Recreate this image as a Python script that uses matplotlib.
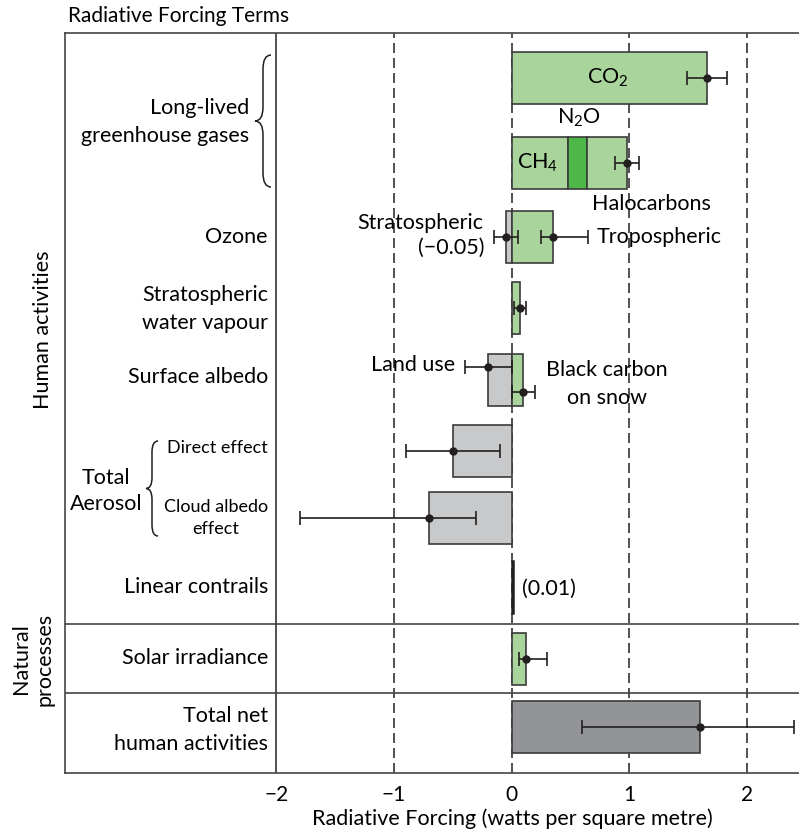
import matplotlib
matplotlib.use("Agg")
import matplotlib.pyplot as plt
from matplotlib.path import Path
from matplotlib.patches import PathPatch

plt.rcParams['font.family'] = ['Lato', 'DejaVu Sans']
plt.rcParams['mathtext.fontset'] = 'custom'
plt.rcParams['mathtext.rm'] = 'Lato'
plt.rcParams['axes.unicode_minus'] = True

# radiative forcing values (W/m2) and uncertainty ranges
co2 = 1.66
co2_err = (1.49, 1.83)
ch4 = 0.48
n2o = 0.16
halocarbons = 0.34
ghg_err = (0.88, 1.08)
ozone_strat = -0.05
ozone_strat_err = (-0.15, 0.05)
ozone_trop = 0.35
ozone_trop_err = (0.25, 0.65)
strat_h2o = 0.07
strat_h2o_err = (0.02, 0.12)
land_use = -0.2
land_use_err = (-0.4, 0.0)
black_carbon = 0.1
black_carbon_err = (0.0, 0.2)
aerosol_direct = -0.5
aerosol_direct_err = (-0.9, -0.1)
cloud_albedo = -0.7
cloud_albedo_err = (-1.8, -0.3)
contrails = 0.01
solar = 0.12
solar_err = (0.06, 0.3)
total_net = 1.6
total_net_err = (0.6, 2.4)

xticks = [-2, -1, 0, 1, 2]

# layout (pixel-like units, top to bottom)
W, H = 799, 833
row_y = {'co2': 77.5, 'ghg': 162.5, 'ozone': 237, 'h2o': 308, 'albedo': 380,
         'direct': 450.5, 'cloud': 517.5, 'contrails': 587, 'solar': 659, 'total': 727}
bar_h = 52
x0_px, unit_px = 511.7, 117.7
left_px, top_px, bottom_px = 65, 32.7, 772.7

light_green = '#a9d59c'
dark_green = '#4db848'
light_gray = '#c8c9cb'
dark_gray = '#929497'
edge = '#3b3b3b'
ink = '#231f20'

fig = plt.figure(figsize=(W / 100, H / 100), dpi=100)
ax = fig.add_axes([left_px / W, 1 - bottom_px / H, (W - left_px) / W, (bottom_px - top_px) / H])
ax.set_xlim((left_px - x0_px) / unit_px, (W - x0_px) / unit_px)
ax.set_ylim(bottom_px, top_px)


def fx(px):
    return px / W


def fy(py):
    return 1 - py / H


def bar(y, width, left=0, color=light_green, h=bar_h):
    ax.barh(y, width, left=left, height=h, color=color, edgecolor=edge, linewidth=1.2, zorder=3)


def err(val, rng, y):
    ax.errorbar(val, y, xerr=[[val - rng[0]], [rng[1] - val]], fmt='o', color=ink,
                ms=5, capsize=5, elinewidth=1.2, capthick=1.2, zorder=5)


# grid lines
for t in xticks:
    if t == -2:
        ax.axvline(t, color='#333333', lw=1.2, zorder=1)
    else:
        ax.axvline(t, color='#333333', lw=1.2, ls=(0, (6, 3)), zorder=1)
for y in [624, 693]:
    ax.axhline(y, color='#444444', lw=1.2, zorder=1)

# bars
bar(row_y['co2'], co2)
err(co2, co2_err, row_y['co2'])

bar(row_y['ghg'], ch4)
bar(row_y['ghg'], n2o, left=ch4, color=dark_green)
bar(row_y['ghg'], halocarbons, left=ch4 + n2o)
err(ch4 + n2o + halocarbons, ghg_err, row_y['ghg'])

bar(row_y['ozone'], ozone_strat, color=light_gray)
bar(row_y['ozone'], ozone_trop)
err(ozone_strat, ozone_strat_err, row_y['ozone'])
err(ozone_trop, ozone_trop_err, row_y['ozone'])

bar(row_y['h2o'], strat_h2o)
err(strat_h2o, strat_h2o_err, row_y['h2o'])

bar(row_y['albedo'], land_use, color=light_gray)
bar(row_y['albedo'], black_carbon)
err(land_use, land_use_err, row_y['albedo'] - 13)
err(black_carbon, black_carbon_err, row_y['albedo'] + 12)

bar(row_y['direct'], aerosol_direct, color=light_gray)
err(aerosol_direct, aerosol_direct_err, row_y['direct'])

bar(row_y['cloud'], cloud_albedo, color=light_gray)
err(cloud_albedo, cloud_albedo_err, row_y['cloud'])

ax.barh(row_y['contrails'], contrails, height=bar_h, color=ink, edgecolor=ink, lw=1.8, zorder=3)

bar(row_y['solar'], solar)
err(solar, solar_err, row_y['solar'])

bar(row_y['total'], total_net, color=dark_gray)
err(total_net, total_net_err, row_y['total'])

# labels inside plot
fs = 15.5
ls = 1.45
ax.text(0.82, 78, r'CO$_2$', fontsize=fs, ha='center', va='center', zorder=6)
ax.text(0.57, 118, r'N$_2$O', fontsize=fs, ha='center', va='center', zorder=6)
ax.text(0.22, 163, r'CH$_4$', fontsize=fs, ha='center', va='center', zorder=6)
ax.text(1.19, 204, 'Halocarbons', fontsize=fs, ha='center', va='center', zorder=6)
ax.text(0.72, 237, 'Tropospheric', fontsize=fs, ha='left', va='center', zorder=6)
ax.text(-0.245, 223, 'Stratospheric', fontsize=fs, ha='right', va='center', zorder=6)
ax.text(-0.23, 248, '(\u22120.05)', fontsize=fs, ha='right', va='center', zorder=6)
ax.text(-0.48, 365, 'Land use', fontsize=fs, ha='right', va='center', zorder=6)
ax.text(0.81, 384, 'Black carbon\non snow', fontsize=fs, ha='center', va='center',
        linespacing=ls, zorder=6)
ax.text(0.09, 589, '(0.01)', fontsize=fs, ha='left', va='center', zorder=6)

# row labels on the left
fig.text(fx(249), fy(122), 'Long-lived\ngreenhouse gases', fontsize=fs, ha='right', va='center',
         multialignment='right', linespacing=ls)
fig.text(fx(268), fy(237), 'Ozone', fontsize=fs, ha='right', va='center')
fig.text(fx(268), fy(309), 'Stratospheric\nwater vapour', fontsize=fs, ha='right', va='center',
         multialignment='center', linespacing=ls)
fig.text(fx(268), fy(377), 'Surface albedo', fontsize=fs, ha='right', va='center')
fig.text(fx(268), fy(448), 'Direct effect', fontsize=13, ha='right', va='center')
fig.text(fx(268), fy(518), 'Cloud albedo\neffect', fontsize=13, ha='right', va='center',
         multialignment='center', linespacing=1.4)
fig.text(fx(106), fy(491), 'Total\nAerosol', fontsize=fs, ha='center', va='center', linespacing=1.35)
fig.text(fx(268), fy(587), 'Linear contrails', fontsize=fs, ha='right', va='center')
fig.text(fx(268), fy(658), 'Solar irradiance', fontsize=fs, ha='right', va='center')
fig.text(fx(268), fy(730), 'Total net\nhuman activities', fontsize=fs, ha='right', va='center',
         multialignment='right', linespacing=ls)
fig.text(fx(43), fy(330), 'Human activities', fontsize=fs, rotation=90, ha='center', va='center')
fig.text(fx(33), fy(659), 'Natural\nprocesses', fontsize=fs, rotation=90, ha='center', va='center',
         linespacing=1.2)
fig.text(fx(68), fy(16), 'Radiative Forcing Terms', fontsize=15, ha='left', va='center')


# braces
def brace(xr_px, xl_px, t, b, r):
    xr = (xr_px - x0_px) / unit_px
    xl = (xl_px - x0_px) / unit_px
    xm = (xr + xl) / 2
    m = (t + b) / 2
    verts = [(xr, t), (xm, t), (xm, t + r), (xm, m - r), (xm, m), (xl, m),
             (xm, m), (xm, m + r), (xm, b - r), (xm, b), (xr, b)]
    codes = [Path.MOVETO, Path.CURVE3, Path.CURVE3, Path.LINETO, Path.CURVE3, Path.CURVE3,
             Path.CURVE3, Path.CURVE3, Path.LINETO, Path.CURVE3, Path.CURVE3]
    ax.add_patch(PathPatch(Path(verts, codes), fill=False, edgecolor=ink, lw=1.1, clip_on=False))


brace(271, 255, 55, 187, 14)
brace(158, 146, 441, 536, 11)

# axes styling
ax.set_xticks(xticks)
ax.set_xticklabels(['\u22122', '\u22121', '0', '1', '2'], fontsize=15)
ax.tick_params(axis='x', length=0, pad=9)
ax.set_yticks([])
ax.spines['right'].set_visible(False)
for s in ['left', 'top', 'bottom']:
    ax.spines[s].set_color('#444444')
    ax.spines[s].set_linewidth(1.2)
fig.text(fx(512), fy(819), 'Radiative Forcing (watts per square metre)', fontsize=15.5,
         ha='center', va='center')

fig.savefig('out.png', dpi=100)
